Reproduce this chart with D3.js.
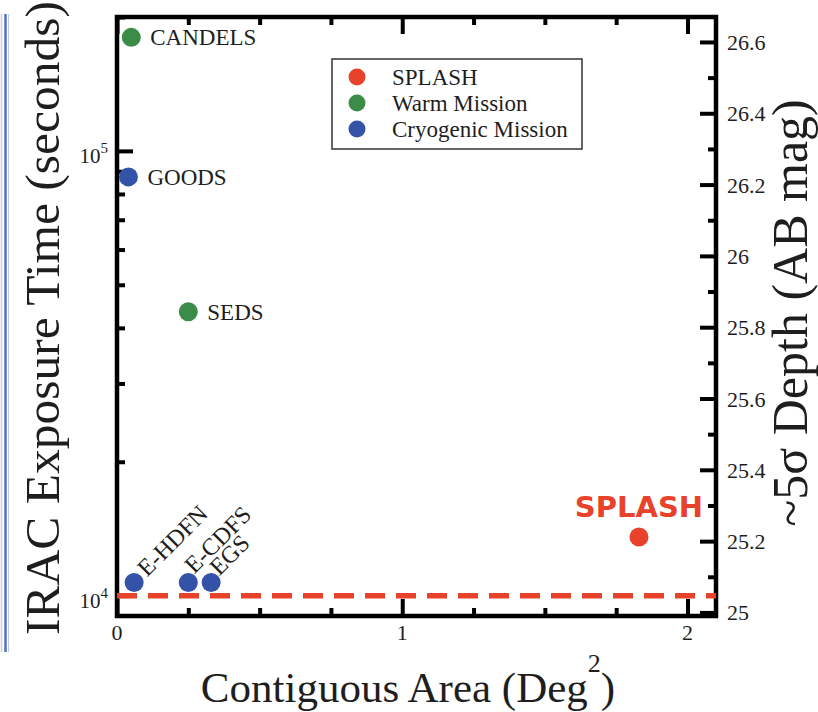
<!DOCTYPE html>
<html>
<head>
<meta charset="utf-8">
<script src="https://cdn.jsdelivr.net/npm/d3@7"></script>
<style>
  html, body { margin: 0; padding: 0; background: #fff; }
  svg { display: block; }
  text { font-family: "Liberation Serif", "Times New Roman", serif; fill: #1e1e1e; }
</style>
</head>
<body>
<script>
// IRAC surveys: contiguous area vs. exposure time
const surveys   = ["CANDELS", "GOODS", "SEDS", "E-HDFN", "E-CDFS", "EGS", "SPLASH"];
const areas     = [0.05, 0.04, 0.25, 0.06, 0.25, 0.33, 1.83];          // deg^2
const exposures = [180000, 87400, 43500, 10700, 10700, 10700, 13550]; // seconds
const missions  = ["warm", "cryo", "warm", "cryo", "cryo", "cryo", "splash"];

const legendKeys   = ["splash", "warm", "cryo"];
const legendLabels = ["SPLASH", "Warm Mission", "Cryogenic Mission"];

const xMajorTicks = [0, 1, 2];
const xMinorTicks = [0.25, 0.5, 0.75, 1.25, 1.5, 1.75];
const yMajorTicks = [1e4, 1e5];
const yMinorTicks = [2e4, 3e4, 4e4, 5e4, 6e4, 7e4, 8e4, 9e4, 2e5];
const yTickExponents = [4, 5];
const depthMajorTicks = [25, 25.2, 25.4, 25.6, 25.8, 26, 26.2, 26.4, 26.6];
const depthMinorTicks = [25.1, 25.3, 25.5, 25.7, 25.9, 26.1, 26.3, 26.5];
const referenceExposure = 10000;

const colors = { splash: "#e8432a", warm: "#3b8c48", cryo: "#3352a8" };

const W = 818, H = 712;
const L = 117, R = 716, T = 17, B = 616;

const svg = d3.select("body").append("svg").attr("width", W).attr("height", H);

const x = d3.scaleLinear().domain([0, 2.1]).range([L, R]);
const y = d3.scaleLog().domain([9000, 200000]).range([B, T]);
const depth = d3.scaleLinear().domain([24.99, 26.67]).range([B, T]);

// slide edge at the far left
svg.append("line").attr("x1", 1.5).attr("x2", 1.5).attr("y1", 14).attr("y2", 652)
  .attr("stroke", "#cfcfcf").attr("stroke-width", 1.5);
svg.append("line").attr("x1", 5.5).attr("x2", 5.5).attr("y1", 14).attr("y2", 652)
  .attr("stroke", "#4f72c6").attr("stroke-width", 2.5);
svg.append("line").attr("x1", 8.5).attr("x2", 8.5).attr("y1", 14).attr("y2", 652)
  .attr("stroke", "#c4c8d0").attr("stroke-width", 1);

// tick helper: inward ticks, no domain path, no labels
function ticks(axisFn, scale, values, size, transform) {
  const g = svg.append("g").attr("transform", transform)
    .call(axisFn(scale).tickValues(values).tickSize(size).tickFormat(""));
  g.select(".domain").remove();
  g.selectAll(".tick line").attr("stroke", "#000").attr("stroke-width", 4);
  return g;
}
ticks(d3.axisTop, x, xMinorTicks, 8, `translate(0,${B})`);
ticks(d3.axisTop, x, xMajorTicks, 17, `translate(0,${B})`);
ticks(d3.axisBottom, x, xMinorTicks, 8, `translate(0,${T})`);
ticks(d3.axisBottom, x, xMajorTicks, 17, `translate(0,${T})`);
ticks(d3.axisRight, y, yMinorTicks, 8, `translate(${L},0)`);
ticks(d3.axisRight, y, yMajorTicks, 16, `translate(${L},0)`);
ticks(d3.axisLeft, depth, depthMinorTicks, 8, `translate(${R},0)`);
ticks(d3.axisLeft, depth, depthMajorTicks, 16, `translate(${R},0)`);

// frame
svg.append("rect").attr("x", L).attr("y", T).attr("width", R - L).attr("height", B - T)
  .attr("fill", "none").attr("stroke", "#000").attr("stroke-width", 4.5);

// x tick labels
svg.append("g").selectAll("text").data(xMajorTicks).join("text")
  .attr("x", d => x(d)).attr("y", 640).attr("text-anchor", "middle")
  .attr("font-size", 22).text(d => d);

// left tick labels 10^n
const yl = svg.append("g").selectAll("text").data(yMajorTicks).join("text")
  .attr("x", 108).attr("y", d => y(d) + 12).attr("text-anchor", "end").attr("font-size", 21);
yl.append("tspan").text("10");
yl.append("tspan").attr("dy", -10).attr("font-size", 15).text((d, i) => yTickExponents[i]);

// right tick labels
svg.append("g").selectAll("text").data(depthMajorTicks).join("text")
  .attr("x", 727).attr("y", d => depth(d) + 8).attr("font-size", 22)
  .text(d => d3.format("~g")(d));

// dashed reference line
svg.append("line")
  .attr("x1", L).attr("x2", R)
  .attr("y1", y(referenceExposure)).attr("y2", y(referenceExposure))
  .attr("stroke", colors.splash).attr("stroke-width", 5.5)
  .attr("stroke-dasharray", "20 11");

// points
const rows = surveys.map((s, i) => ({ name: s, area: areas[i], exp: exposures[i], kind: missions[i] }));
svg.append("g").selectAll("circle").data(rows).join("circle")
  .attr("cx", d => x(d.area)).attr("cy", d => y(d.exp)).attr("r", 9.5)
  .attr("fill", d => colors[d.kind]);

// labels
const sideLabels = ["CANDELS", "GOODS", "SEDS"];
svg.append("g").selectAll("text").data(rows.filter(d => sideLabels.includes(d.name))).join("text")
  .attr("x", d => x(d.area) + 19).attr("y", d => y(d.exp) + 8)
  .attr("font-size", 23).text(d => d.name);

const tiltOffsets = { "E-HDFN": [13, -5], "E-CDFS": [6, -8], "EGS": [8, -6] };
svg.append("g").selectAll("text").data(rows.filter(d => tiltOffsets[d.name])).join("text")
  .attr("transform", d => {
    const o = tiltOffsets[d.name];
    return `translate(${x(d.area) + o[0]},${y(d.exp) + o[1]}) rotate(-45)`;
  })
  .attr("font-size", 24).text(d => d.name);

const sp = rows.find(d => d.kind === "splash");
svg.append("text").attr("x", x(sp.area)).attr("y", y(sp.exp) - 20)
  .attr("text-anchor", "middle")
  .style("font-family", "'DejaVu Sans', Verdana, sans-serif")
  .style("font-weight", "bold").style("fill", colors.splash)
  .attr("font-size", 29).text(sp.name);

// legend
const lg = svg.append("g");
lg.append("rect").attr("x", 332).attr("y", 59).attr("width", 250).attr("height", 90)
  .attr("fill", "#fff").attr("stroke", "#333").attr("stroke-width", 1.5);
legendKeys.forEach((k, i) => {
  const cy = 77 + i * 26;
  lg.append("circle").attr("cx", 357).attr("cy", cy).attr("r", 8.5).attr("fill", colors[k]);
  lg.append("text").attr("x", 392).attr("y", cy + 8).attr("font-size", 23).text(legendLabels[i]);
});

// axis titles
svg.append("text")
  .attr("transform", "translate(59,318) rotate(-90)")
  .attr("text-anchor", "middle").attr("font-size", 49.5)
  .text("IRAC Exposure Time (seconds)");

svg.append("text")
  .attr("transform", "translate(807,313) rotate(-90)")
  .attr("text-anchor", "middle").attr("font-size", 50)
  .text("~5σ Depth (AB mag)");

const xt = svg.append("text")
  .attr("x", 408).attr("y", 702).attr("text-anchor", "middle").attr("font-size", 43);
xt.append("tspan").text("Contiguous Area (Deg");
xt.append("tspan").attr("dy", -30).attr("font-size", 26).text("2");
xt.append("tspan").attr("dy", 30).text(")");
</script>
</body>
</html>
